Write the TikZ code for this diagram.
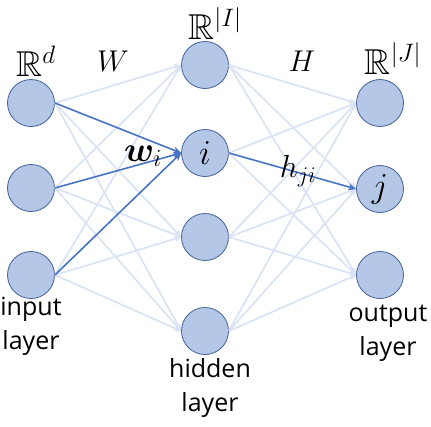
\RequirePackage{fix-cm}
\documentclass[tikz,border=0pt]{standalone}
\usepackage{amssymb}
\usepackage{bm}
\usepackage{fontspec}
\setsansfont{Open Sans}
\usetikzlibrary{arrows.meta}
\definecolor{nodefill}{HTML}{B4C7E7}
\definecolor{nodeline}{HTML}{41609A}
\definecolor{lightedge}{HTML}{DAE3F3}
\definecolor{darkedge}{HTML}{4472C4}
\tikzset{
  neuron/.style={circle, draw=nodeline, fill=nodefill, line width=0.8pt, minimum size=47pt, inner sep=0pt, font=\fontsize{35}{35}\selectfont},
  lightarrow/.style={draw=lightedge, line width=1.7pt, -{Stealth[length=7pt,width=6.5pt]}},
  darkarrow/.style={draw=darkedge, line width=1.5pt, -{Stealth[length=8pt,width=7pt]}},
  layertext/.style={align=center, font=\sffamily\fontsize{25}{34}\selectfont, inner sep=0pt},
  mathlabel/.style={font=\fontsize{30}{30}\selectfont, inner sep=0pt},
  spacelabel/.style={font=\fontsize{36}{36}\selectfont, inner sep=0pt}
}
\begin{document}
\begin{tikzpicture}[x=1pt,y=-1pt]
\useasboundingbox (0,0) rectangle (431,426);
% nodes
\node[neuron] (in1) at (31,103) {};
\node[neuron] (in2) at (31,188) {};
\node[neuron] (in3) at (31,275) {};
\node[neuron] (h1) at (205,65) {};
\node[neuron] (h2) at (205,153) {$i$};
\node[neuron] (h3) at (205,237) {};
\node[neuron] (h4) at (205,331) {};
\node[neuron] (o1) at (380,103) {};
\node[neuron] (o2) at (380,189) {$j$};
\node[neuron] (o3) at (380,275) {};
% light edges
\foreach \a in {in1,in2,in3}{
  \foreach \b in {h1,h2,h3,h4}{
    \draw[lightarrow] (\a.east) -- (\b.west);
  }
}
\foreach \a in {h1,h2,h3,h4}{
  \foreach \b in {o1,o2,o3}{
    \draw[lightarrow] (\a.east) -- (\b.west);
  }
}
% dark edges
\draw[darkarrow] (in1.east) -- (h2.west);
\draw[darkarrow] (in2.east) -- (h2.west);
\draw[darkarrow] (in3.east) -- (h2.west);
\draw[darkarrow] (h2.east) -- (o2.west);
% labels
\node[spacelabel] (Rd) at (36,61) {$\mathbb{R}^{d}$};
\node[mathlabel] (W) at (113,61) {$W$};
\node[spacelabel] (RI) at (215,24) {$\mathbb{R}^{|I|}$};
\node[mathlabel] (H) at (302,61) {$H$};
\node[spacelabel] (RJ) at (393,59) {$\mathbb{R}^{|J|}$};
\node[font=\fontsize{35}{35}\selectfont, inner sep=0pt] (wi) at (143,156) {$\bm{w}_{i}$};
\node[font=\fontsize{32}{32}\selectfont, inner sep=0pt] (hji) at (298,171) {$h_{ji}$};
\node[layertext] (inl) at (31,326) {input\\layer};
\node[layertext] (hil) at (210,388) {hidden\\layer};
\node[layertext] (oul) at (388,333) {output\\layer};
\end{tikzpicture}
\end{document}
